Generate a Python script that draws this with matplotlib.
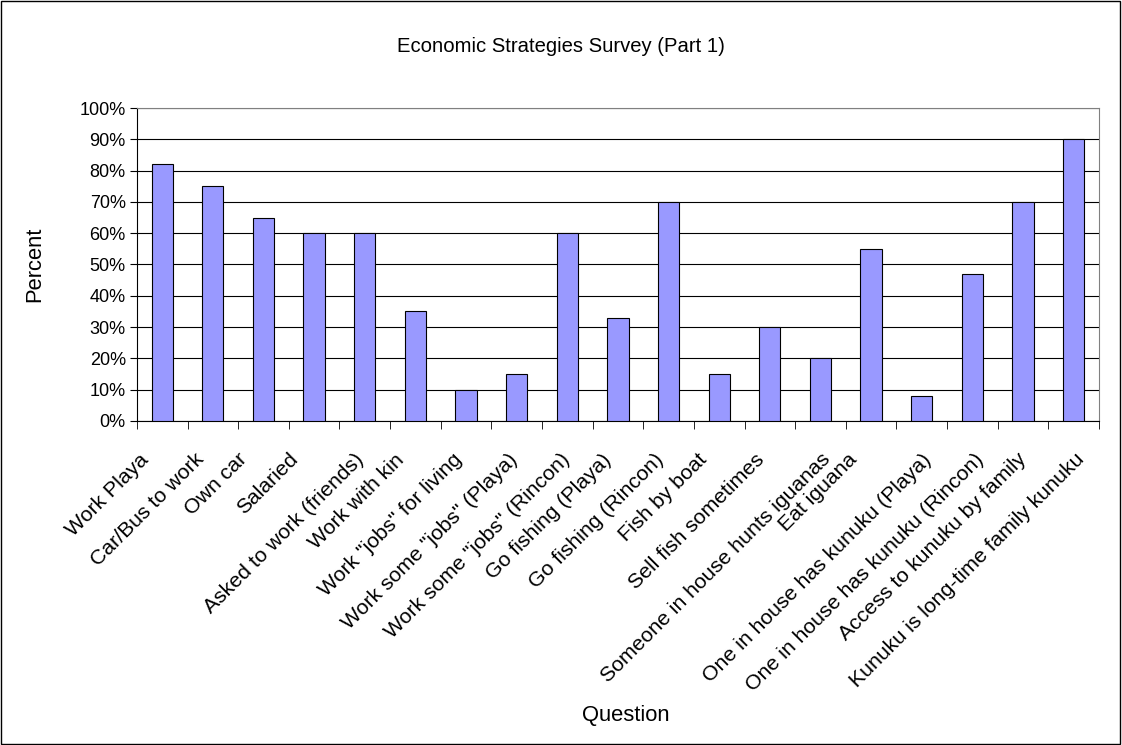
import matplotlib
matplotlib.use("Agg")
import matplotlib.pyplot as plt
import numpy as np
from matplotlib.patches import Rectangle
from matplotlib.transforms import ScaledTranslation, blended_transform_factory

plt.rcParams['font.family'] = ['Liberation Sans', 'DejaVu Sans']

categories = ["Work Playa", "Car/Bus to work", "Own car", "Salaried", "Asked to work (friends)",
              "Work with kin", "Work \"jobs\" for living", "Work some \"jobs\" (Playa)",
              "Work some \"jobs\" (Rincon)", "Go fishing (Playa)", "Go fishing (Rincon)",
              "Fish by boat", "Sell fish sometimes", "Someone in house hunts iguanas",
              "Eat iguana", "One in house has kunuku (Playa)", "One in house has kunuku (Rincon)",
              "Access to kunuku by family", "Kunuku is long-time family kunuku"]
values = [82, 75, 65, 60, 60, 35, 10, 15, 60, 33, 70, 15, 30, 20, 55, 8, 47, 70, 90]
yticks = [0, 10, 20, 30, 40, 50, 60, 70, 80, 90, 100]

DPI = 100
fig = plt.figure(figsize=(11.22, 7.45), dpi=DPI)
fig.patches.append(Rectangle((0.001, 0.001), 0.997, 0.997, transform=fig.transFigure,
                             fill=False, edgecolor='black', linewidth=1))
ax = fig.add_axes([0.122, 0.435, 0.8575, 0.42])
x = np.arange(len(categories))
ax.bar(x, values, width=0.42, color='#9999FF', edgecolor='black', linewidth=0.8, zorder=3)
ax.set_xlim(-0.5, len(categories) - 0.5)
ax.set_ylim(0, 100)
ax.set_yticks(yticks)
ax.set_yticklabels([f"{v}%" for v in yticks], fontsize=13)
ax.yaxis.grid(True, color='black', linewidth=0.8, zorder=0)
ax.set_xticks(x)
ax.set_xticklabels([])
ax.tick_params(axis='x', which='major', length=0)
ax.set_xticks(np.arange(-0.5, len(categories) + 0.5, 1), minor=True)
ax.tick_params(axis='x', which='minor', length=6, direction='out', color='black')
ax.tick_params(axis='y', length=5, direction='out', pad=3)
for s in ['top', 'right']:
    ax.spines[s].set_color('#808080')
for s in ['left', 'bottom']:
    ax.spines[s].set_color('black')

# category labels, rotated 45 degrees
trans = blended_transform_factory(ax.transData, ax.transAxes)
renderer = fig.canvas.get_renderer()
for xi, cat in zip(x, categories):
    t = ax.text(xi, 0, cat, rotation=45, ha='right', va='top', rotation_mode='anchor',
                fontsize=15.3, transform=trans, clip_on=False)
    bb = t.get_window_extent(renderer)
    L = bb.width / 0.7071 - 17
    dx = -35 + 0.11 * L
    t.set_transform(trans + ScaledTranslation(dx / DPI, -29 / DPI, fig.dpi_scale_trans))

fig.text(0.5, 0.938, "Economic Strategies Survey (Part 1)", ha='center', va='center', fontsize=14.6)
fig.text(35 / 1122, 1 - 264 / 745, "Percent", rotation=90, ha='center', va='center', fontsize=15.8)
fig.text(626 / 1122, 1 - 716 / 745, "Question", ha='center', va='center', fontsize=15.8)
fig.savefig("out.png", dpi=DPI)
